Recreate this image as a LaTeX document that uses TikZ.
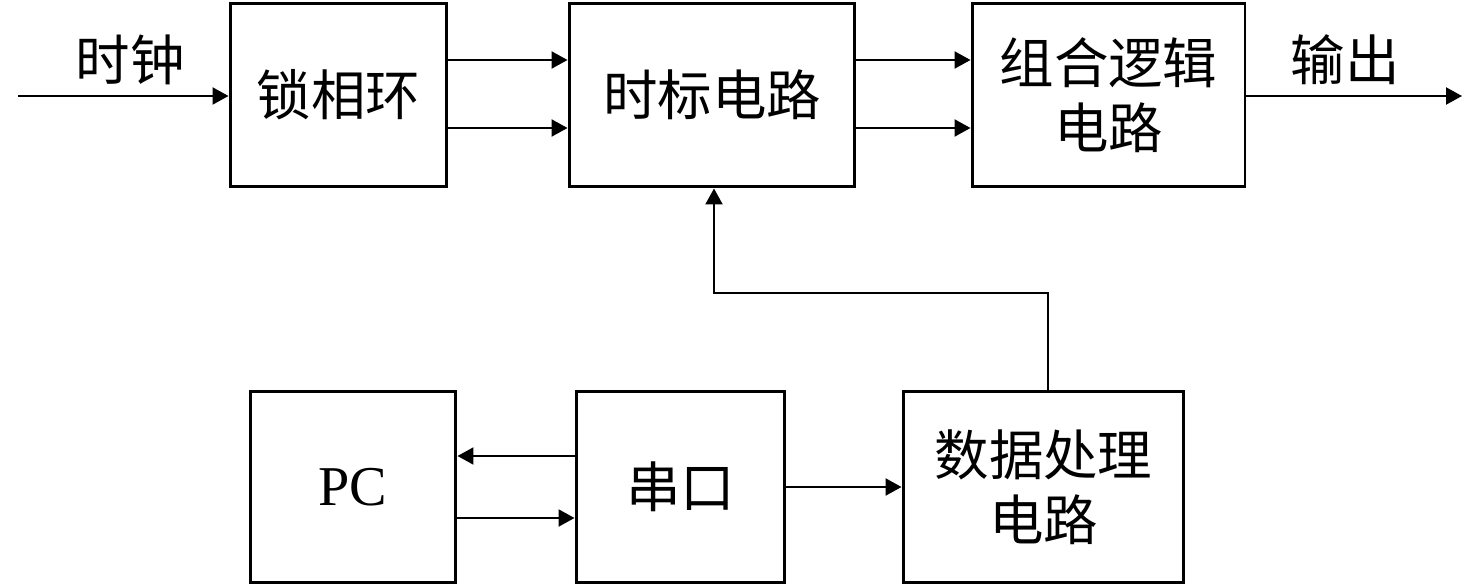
\documentclass[tikz,border=0pt]{standalone}
\usepackage{fontspec}
\setmainfont{Liberation Serif}
\newfontfamily\cjk{Noto Sans CJK SC}
\usetikzlibrary{arrows.meta}
\tikzset{
  blk/.style={draw, line width=1.7pt, inner sep=0pt, align=center,
    font=\cjk\fontsize{31}{37}\selectfont},
  lbl/.style={font=\cjk\fontsize{31}{36}\selectfont},
  sig/.style={line width=1.2pt, -{Triangle[length=0.32cm,width=0.34cm]}}
}
\begin{document}
\begin{tikzpicture}[x=0.02cm, y=-0.02cm]
  \useasboundingbox (0,0) rectangle (1476,587);
  % upper row
  \node [blk, minimum width=4.34cm, minimum height=3.68cm] (pll) at (338.5,95) {锁相环};
  \node [blk, minimum width=5.72cm, minimum height=3.68cm] (tmark) at (712,95) {时标电路};
  \node [blk, minimum width=5.46cm, minimum height=3.68cm] (logic) at (1108.5,95) {组合逻辑\\电路};
  % lower row
  \node [blk, minimum width=4.12cm, minimum height=3.84cm, font=\fontsize{32}{36}\selectfont] (pc) at (353,487) {PC};
  \node [blk, minimum width=4.18cm, minimum height=3.84cm] (uart) at (680.5,487) {串口};
  \node [blk, minimum width=5.62cm, minimum height=3.84cm] (proc) at (1043.5,487) {数据处理\\电路};
  % in / out
  \coordinate (clkin) at (18,96);
  \coordinate (out) at (1462,96);
  \node [lbl] (clk) at (130,60) {时钟};
  \node [lbl] (outl) at (1345,60) {输出};
  \draw [sig] (clkin) -- (clkin -| pll.west);
  \draw [sig] (pll.east |- 0,60) -- (tmark.west |- 0,60);
  \draw [sig] (pll.east |- 0,128) -- (tmark.west |- 0,128);
  \draw [sig] (tmark.east |- 0,60) -- (logic.west |- 0,60);
  \draw [sig] (tmark.east |- 0,128) -- (logic.west |- 0,128);
  \draw [sig] (logic.east |- out) -- (out);
  % feedback from data processing
  \draw [sig] (proc.north -| 1048,0) |- (714,293) -- (tmark.south -| 714,0);
  \draw [sig] (uart.west |- 0,456) -- (pc.east |- 0,456);
  \draw [sig] (pc.east |- 0,518) -- (uart.west |- 0,518);
  \draw [sig] (uart.east) -- (proc.west);
\end{tikzpicture}
\end{document}
